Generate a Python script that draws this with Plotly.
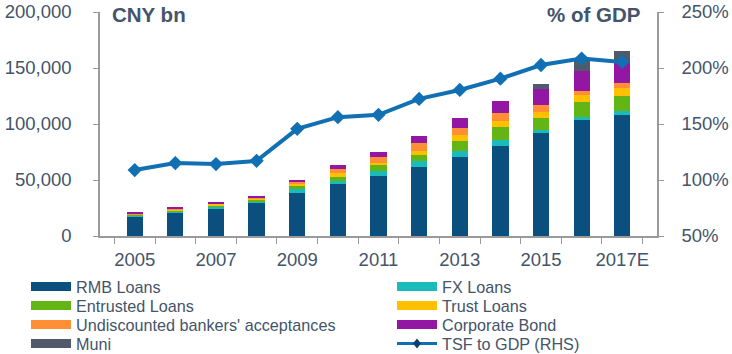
import plotly.graph_objects as go

years = ["2005", "2006", "2007", "2008", "2009", "2010", "2011",
         "2012", "2013", "2014", "2015", "2016", "2017E"]
x_tick_labels = ["2005", "", "2007", "", "2009", "", "2011",
                 "", "2013", "", "2015", "", "2017E"]

rmb_loans = [17200, 20800, 24400, 30000, 38700, 46700, 53800, 61900, 70800, 80600, 92200, 103900, 108300]
fx_loans = [1200, 1200, 1200, 600, 3200, 2700, 3900, 4750, 5400, 5400, 2700, 2400, 3000]
entrusted_loans = [600, 600, 1800, 1800, 2400, 3600, 5300, 6000, 8900, 11600, 10700, 13600, 14000]
trust_loans = [600, 1200, 1200, 1200, 1800, 2900, 1800, 3600, 5400, 5400, 5400, 6300, 7100]
undiscounted = [600, 600, 500, 1200, 1800, 3600, 5400, 6500, 6200, 7100, 6300, 3500, 4500]
corporate_bond = [600, 900, 600, 1200, 1800, 3500, 4500, 6900, 8900, 10700, 14200, 17900, 17900]
muni = [0, 0, 0, 0, 0, 0, 0, 0, 0, 0, 4500, 11400, 10700]
tsf_to_gdp = [108.9, 115.1, 114.2, 117.1, 145.7, 156.1, 158.2, 172.4, 180.4, 190.5, 202.7, 208.4, 205.4]

bar_series = [
    ("RMB Loans", rmb_loans, "#0B4F7F"),
    ("FX Loans", fx_loans, "#1BBABB"),
    ("Entrusted Loans", entrusted_loans, "#63B515"),
    ("Trust Loans", trust_loans, "#FFC000"),
    ("Undiscounted bankers' acceptances", undiscounted, "#FF8F35"),
    ("Corporate Bond", corporate_bond, "#9417A3"),
    ("Muni", muni, "#4F5B6B"),
]
line_name = "TSF to GDP (RHS)"
line_color = "#1070B3"

TXT = "#44546A"
AX = "#9A9A9A"
FONT = "Liberation Sans, Arial, sans-serif"

fig = go.Figure()
for name, vals, col in bar_series:
    fig.add_trace(go.Bar(x=years, y=vals, name=name, marker_color=col,
                         marker_line_width=0, showlegend=False))
fig.add_trace(go.Scatter(x=years, y=tsf_to_gdp, name=line_name, yaxis="y2",
                         mode="lines+markers",
                         line=dict(color=line_color, width=4),
                         marker=dict(symbol="diamond", size=11, color=line_color),
                         showlegend=False))

W, H = 732, 354
ML, MR, MT, MB = 100, 75, 12, 118
PW, PH = W - ML - MR, H - MT - MB


def px(x):
    return (x - ML) / PW


def py(y):
    return (H - MB - y) / PH


shapes = []
annotations = []

# custom legend
legend_items = [(n, c, "bar") for n, _, c in bar_series] + [(line_name, line_color, "line")]
row_y = [286.5, 305.5, 324.5, 343.5]
col_x = [31, 397]
for i, (name, col, kind) in enumerate(legend_items):
    r, c = i // 2, i % 2
    x0 = col_x[c]
    yc = row_y[r]
    if kind == "bar":
        shapes.append(dict(type="rect", xref="paper", yref="paper",
                           x0=px(x0), x1=px(x0 + 40), y0=py(yc + 4.5), y1=py(yc - 4.5),
                           fillcolor=col, line=dict(width=0)))
    else:
        shapes.append(dict(type="line", xref="paper", yref="paper",
                           x0=px(x0), x1=px(x0 + 40), y0=py(yc), y1=py(yc),
                           line=dict(color=col, width=3)))
        cx = x0 + 20
        path = "M {} {} L {} {} L {} {} L {} {} Z".format(
            px(cx - 4), py(yc), px(cx), py(yc - 5), px(cx + 4), py(yc), px(cx), py(yc + 5))
        shapes.append(dict(type="path", xref="paper", yref="paper", path=path,
                           fillcolor="#0B3F6B", line=dict(width=0)))
    annotations.append(dict(text=name, xref="paper", yref="paper",
                            x=px(x0 + 43), y=py(yc), xanchor="left", yanchor="middle",
                            showarrow=False, font=dict(size=16.2, color=TXT, family=FONT)))

annotations.append(dict(text="<b>CNY bn</b>", xref="paper", yref="paper",
                        x=px(110), y=py(15), xanchor="left", yanchor="middle",
                        showarrow=False, font=dict(size=20.5, color=TXT, family=FONT)))
annotations.append(dict(text="<b>% of GDP</b>", xref="paper", yref="paper",
                        x=px(642), y=py(15), xanchor="right", yanchor="middle",
                        showarrow=False, font=dict(size=20.5, color=TXT, family=FONT)))

fig.update_layout(
    width=W, height=H,
    margin=dict(l=ML, r=MR, t=MT, b=MB, pad=0, autoexpand=False),
    barmode="stack", bargap=0.6,
    plot_bgcolor="white", paper_bgcolor="white",
    font=dict(family=FONT, color=TXT, size=18),
    showlegend=False,
    shapes=shapes, annotations=annotations,
    xaxis=dict(type="category", tickson="boundaries", tickmode="array",
               tickvals=years, ticktext=x_tick_labels, tickangle=0, automargin=False,
               ticks="outside", ticklen=6, tickcolor=AX, tickwidth=1,
               showline=True, linecolor=AX, linewidth=1.5, showgrid=False,
               tickfont=dict(size=18.5, color=TXT), ticklabelstandoff=6),
    yaxis=dict(range=[0, 200000], tickmode="linear", tick0=0, dtick=50000, automargin=False,
               tickformat=",", ticks="outside", ticklen=5, tickcolor=AX,
               showline=True, linecolor=AX, linewidth=1.5, showgrid=False, zeroline=False,
               tickfont=dict(size=18.5, color=TXT), ticklabelstandoff=18),
    yaxis2=dict(range=[50, 250], tickmode="linear", tick0=50, dtick=50, automargin=False,
                ticksuffix="%", overlaying="y", side="right",
                ticks="outside", ticklen=5, tickcolor=AX,
                showline=True, linecolor=AX, linewidth=1.5, showgrid=False, zeroline=False,
                tickfont=dict(size=18.5, color=TXT), ticklabelstandoff=14),
)

fig.write_html("out.html")
